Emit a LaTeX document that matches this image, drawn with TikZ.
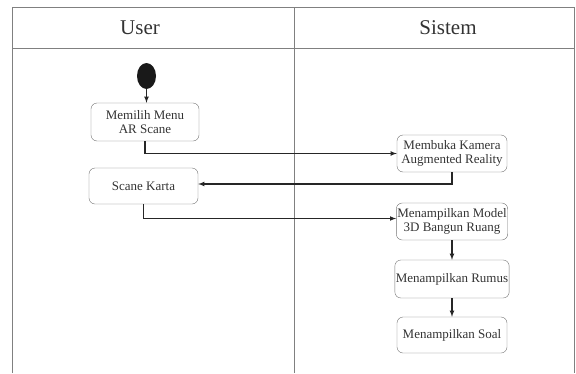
\documentclass[tikz,border=0pt]{standalone}
\usepackage{fontspec}
\setmainfont{Liberation Serif}
\usetikzlibrary{positioning,shapes.geometric}

\tikzset{
    act/.style={draw=black!55, rounded corners=6pt, minimum width=110pt,
                minimum height=37pt, inner sep=1pt, align=center,
                text=black!80, font=\fontsize{13}{13.5}\selectfont},
    lane/.style={draw=black!50, line width=0.8pt},
    flow/.style={->, >=latex, draw=black!85, line width=1.1pt},
    head/.style={text=black!80, font=\fontsize{21}{24}\selectfont}
}

\begin{document}
\begin{tikzpicture}[x=10pt, y=-10pt]
    \useasboundingbox (0,0) rectangle (57.6,37.3);
    % Lanes
    \draw[lane] (1.27,37.3) -- (1.27,0.7) -- (57.4,0.7) -- (57.4,37.3);
    \draw[lane] (1.27,4.8) -- (57.4,4.8);
    \draw[lane] (29.4,0.7) -- (29.4,37.3);
    \node[head] (user) at (14.0,2.75) {User};
    \node[head] (sistem) at (44.8,2.75) {Sistem};
    % User
    \node[ellipse, fill=black!90, minimum width=19pt, minimum height=26pt,
          inner sep=0pt] (start) at (14.65,7.6) {};
    \node[act, minimum width=108pt, minimum height=38pt] (menu) at (14.5,12.2) {Memilih Menu\\AR Scane};
    \node[act, minimum width=109pt, minimum height=36pt] (karta) at (14.35,18.6) {Scane Karta};
    % Sistem
    \node[act] (kamera) at (45.2,15.35) {Membuka Kamera\\Augmented Reality};
    \node[act] (model) at (45.2,22.15) {Menampilkan Model\\3D Bangun Ruang};
    \node[act, minimum height=38pt] (rumus) at (45.2,27.9) {Menampilkan Rumus};
    \node[act, minimum height=36pt] (soal) at (45.2,33.5) {Menampilkan Soal};
    % Flows
    \draw[flow] (start.south) -- (menu.north -| start.south);
    \draw[flow] (menu.south) |- (kamera.west);
    \draw[flow] (kamera.south) |- ([yshift=2pt]karta.east);
    \draw[flow] (karta.south) |- ([yshift=3pt]model.west);
    \draw[flow] (model) -- (rumus);
    \draw[flow] (rumus) -- (soal);
\end{tikzpicture}
\end{document}
